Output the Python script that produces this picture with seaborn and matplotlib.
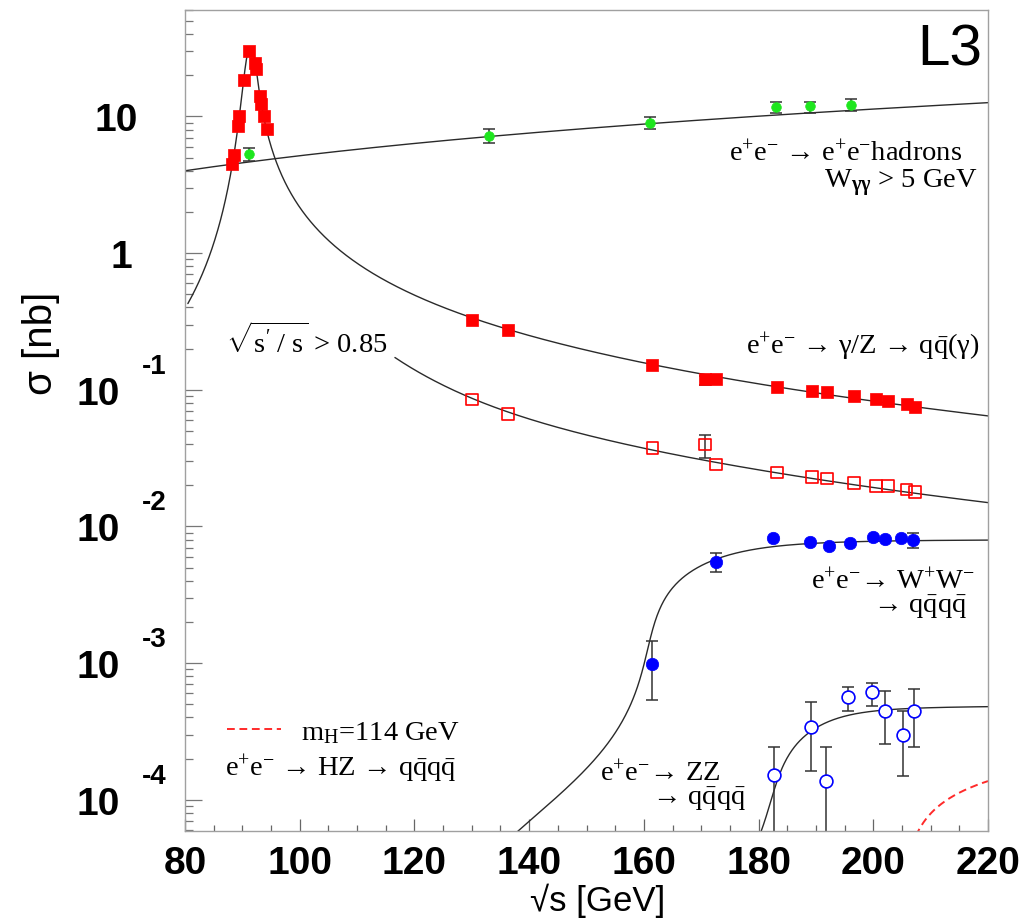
import numpy as np
import matplotlib
matplotlib.use("Agg")
import matplotlib.pyplot as plt
import matplotlib.transforms as mtransforms
from matplotlib.ticker import MultipleLocator, LogLocator, NullFormatter
import seaborn as sns

# ---------------- data ----------------
# e+e- -> hadrons at the Z pole (filled red squares)
zpole_x = [88.25, 88.54, 89.30, 89.47, 90.29, 91.21, 92.20, 92.38, 93.08, 93.25, 93.77, 94.24]
zpole_y = [4.48, 5.21, 8.53, 10.1, 18.4, 30.2, 24.5, 22.2, 14.2, 12.4, 10.1, 8.07]

# LEP2 energies
lep2_x = [130.1, 136.3, 161.5, 170.6, 172.6, 183.2, 189.3, 191.9, 196.6, 200.5, 202.5, 205.8, 207.3]
# e+e- -> gamma/Z -> q qbar (gamma), inclusive (filled red squares)
qq_incl_y = [0.326, 0.274, 0.152, 0.120, 0.120, 0.1047, 0.0984, 0.0956, 0.0894, 0.0849, 0.0826, 0.0785, 0.0748]
# sqrt(s'/s) > 0.85 (open red squares)
qq_excl_y = [0.0849, 0.0668, 0.0375, 0.0397, 0.0284, 0.0248, 0.0229, 0.0224, 0.0208, 0.0197, 0.0197, 0.0186, 0.0179]
# visible error bars on the red points
qq_incl_err_x = [170.6]
qq_incl_err_lo = [0.109]
qq_incl_err_hi = [0.127]
qq_excl_err_x = [170.6]
qq_excl_err_lo = [0.0317]
qq_excl_err_hi = [0.047]

# e+e- -> e+e- hadrons, W_gg > 5 GeV (green)
gg_x = [91.2, 133.0, 161.1, 183.0, 189.0, 196.1]
gg_y = [5.30, 7.15, 9.0, 11.8, 11.9, 12.2]
gg_lo = [4.68, 6.35, 8.13, 10.6, 10.6, 10.9]
gg_hi = [5.82, 8.04, 9.88, 12.7, 12.8, 13.3]

# e+e- -> W+W- -> qqqq (filled blue)
ww_x = [161.4, 172.6, 182.6, 189.0, 192.2, 195.9, 200.0, 202.0, 204.9, 207.0]
ww_y = [9.9e-4, 5.52e-3, 8.26e-3, 7.63e-3, 7.18e-3, 7.52e-3, 8.41e-3, 8.03e-3, 8.26e-3, 7.94e-3]
ww_err_x = [161.4, 172.6, 207.0]
ww_err_lo = [5.4e-4, 4.67e-3, 6.98e-3]
ww_err_hi = [1.44e-3, 6.35e-3, 8.9e-3]

# e+e- -> ZZ -> qqqq (open blue)
zz_x = [182.7, 189.1, 191.8, 195.6, 199.7, 202.1, 205.1, 207.1]
zz_y = [1.51e-4, 3.40e-4, 1.38e-4, 5.62e-4, 6.11e-4, 4.49e-4, 2.96e-4, 4.49e-4]
zz_lo = [3.0e-5, 1.62e-4, 3.0e-5, 4.49e-4, 4.88e-4, 2.56e-4, 1.49e-4, 2.42e-4]
zz_hi = [2.42e-4, 5.16e-4, 2.42e-4, 6.65e-4, 7.14e-4, 6.28e-4, 4.49e-4, 6.46e-4]

# ---------------- model-curve parameters (tuned to the picture) ----------------
MZ, GZ_LEFT, Z_PEAK = 91.2, 2.4, 30.5
TAIL_NEAR, TAIL_NEAR_P = 15800.0, 1.2
TAIL_FAR, TAIL_FAR_P = 4360.0, 1.05
CUT_NEAR, CUT_NEAR_P = 63800.0, 1.497
CUT_FAR, CUT_FAR_P = 1397.0, 1.08
CUT_START = 116.6
SMOOTH_K = 10.0
GG_AT80, GG_POW = 4.0, 1.134
WW_THR, WW_HW, WW_B, WW_AT220, WW_SPAN = 160.8, 1.5, 0.48, 7.94e-3, 48.0
ZZ_THR, ZZ_HW, ZZ_B, ZZ_AT220, ZZ_SPAN = 182.4, 2.0, 0.37, 4.8e-4, 40.0
HZ_THR, HZ_HW, HZ_B, HZ_AT220, HZ_SPAN = 205.2, 1.25, 10.0, 1.37e-4, 40.0

# ---------------- style ----------------
sns.set_theme(style="white")
plt.rcParams["font.family"] = ["Liberation Sans", "DejaVu Sans"]
plt.rcParams["text.color"] = "black"
plt.rcParams["axes.labelcolor"] = "black"
plt.rcParams["xtick.color"] = "black"
plt.rcParams["ytick.color"] = "black"
plt.rcParams["mathtext.fontset"] = "custom"
plt.rcParams["mathtext.rm"] = "Liberation Serif"
plt.rcParams["mathtext.it"] = "Liberation Serif:italic"
plt.rcParams["mathtext.bf"] = "Liberation Serif:bold"

RED, GREEN, BLUE = "#ff0000", "#1ee61e", "#0000ff"
CURVE = "#2a2a2a"
FRAME = "#a0a0a0"
SERIF = ["Liberation Serif", "DejaVu Serif"]
SANS = ["Liberation Sans", "DejaVu Sans"]

W, H = 1032, 920
L, R, T, B = 185.0, 988.0, 11.0, 831.7
fig = plt.figure(figsize=(W / 100, H / 100), dpi=100)
fig.patch.set_facecolor("white")
ax = fig.add_axes([L / W, 1 - B / H, (R - L) / W, (B - T) / H])
ax.set_facecolor("white")
ax.set_yscale("log")
ax.set_xlim(80, 220)
ax.set_ylim(5.94e-5, 60)


# ---------------- model curves ----------------
def smooth_max(a, b, k=SMOOTH_K):
    return (a ** k + b ** k) ** (1.0 / k)


def z_lineshape(x):
    s_d = x ** 2 - MZ ** 2
    left = Z_PEAK * (MZ * GZ_LEFT) ** 2 / (s_d ** 2 + (MZ * GZ_LEFT) ** 2)
    d = np.clip(s_d, 1e-3, None)
    tail = smooth_max(TAIL_NEAR * d ** -TAIL_NEAR_P, TAIL_FAR * d ** -TAIL_FAR_P)
    right = (Z_PEAK ** -4 + tail ** -4) ** -0.25
    return np.where(x <= MZ, left, right)


def cut_curve(x):
    d = x ** 2 - MZ ** 2
    return smooth_max(CUT_NEAR * d ** -CUT_NEAR_P, CUT_FAR * d ** -CUT_FAR_P)


def threshold(x, thr, hw, b, at220, span, n=8):
    def shape(xx):
        tm = np.linspace(thr - span, thr + span, 4001)
        rho = hw / np.pi / ((tm - thr) ** 2 + hw ** 2)
        beta = np.sqrt(np.clip(1 - (tm[None, :] / xx[:, None]) ** 2, 0, None))
        r = beta / b
        f = r / (1 + r ** n) ** (1.0 / n)
        return np.trapezoid(rho[None, :] * f, tm, axis=1)
    return at220 * shape(x) / shape(np.array([220.0]))[0]


x_z = np.linspace(80.5, 220, 1600)
x_gg = np.linspace(80, 220, 200)
x_cut = np.linspace(CUT_START, 220, 300)
x_ww = np.linspace(125, 220, 500)
x_zz = np.linspace(175, 220, 400)
x_hz = np.linspace(200, 220, 200)

lw_c = 1.0
sns.lineplot(x=x_gg, y=GG_AT80 * (x_gg / 80) ** GG_POW, ax=ax, color=CURVE, lw=lw_c,
             estimator=None, sort=False, zorder=1)
sns.lineplot(x=x_z, y=z_lineshape(x_z), ax=ax, color=CURVE, lw=lw_c,
             estimator=None, sort=False, zorder=1)
sns.lineplot(x=x_cut, y=cut_curve(x_cut), ax=ax, color=CURVE, lw=lw_c,
             estimator=None, sort=False, zorder=1)
sns.lineplot(x=x_ww, y=threshold(x_ww, WW_THR, WW_HW, WW_B, WW_AT220, WW_SPAN), ax=ax,
             color=CURVE, lw=lw_c, estimator=None, sort=False, zorder=1)
sns.lineplot(x=x_zz, y=threshold(x_zz, ZZ_THR, ZZ_HW, ZZ_B, ZZ_AT220, ZZ_SPAN), ax=ax,
             color=CURVE, lw=lw_c, estimator=None, sort=False, zorder=1)
sns.lineplot(x=x_hz, y=threshold(x_hz, HZ_THR, HZ_HW, HZ_B, HZ_AT220, HZ_SPAN), ax=ax,
             color="#ff2a2a", lw=1.4, estimator=None, sort=False, zorder=1)
hz_line = ax.lines[-1]
hz_line.set_dashes((4, 2.4))


# ---------------- error bars ----------------
def errbars(x, y, lo, hi):
    y = np.asarray(y, float)
    ax.errorbar(x, y, yerr=[y - np.asarray(lo), np.asarray(hi) - y], fmt="none",
                ecolor="#333333", elinewidth=1.1, capsize=4.5, capthick=1.1, zorder=2)


errbars(gg_x, gg_y, gg_lo, gg_hi)
errbars(zz_x, zz_y, zz_lo, zz_hi)
errbars(ww_err_x, [ww_y[ww_x.index(v)] for v in ww_err_x], ww_err_lo, ww_err_hi)
errbars(qq_incl_err_x, [qq_incl_y[lep2_x.index(v)] for v in qq_incl_err_x], qq_incl_err_lo, qq_incl_err_hi)
errbars(qq_excl_err_x, [qq_excl_y[lep2_x.index(v)] for v in qq_excl_err_x], qq_excl_err_lo, qq_excl_err_hi)

# ---------------- markers ----------------
sns.scatterplot(x=zpole_x, y=zpole_y, ax=ax, marker="s", s=80, color=RED, edgecolor=RED,
                linewidth=0.5, zorder=3)
sns.scatterplot(x=lep2_x, y=qq_incl_y, ax=ax, marker="s", s=80, color=RED, edgecolor=RED,
                linewidth=0.5, zorder=3)
sns.scatterplot(x=lep2_x, y=qq_excl_y, ax=ax, marker="s", s=72, facecolor="none", edgecolor=RED,
                linewidth=1.2, zorder=3)
sns.scatterplot(x=gg_x, y=gg_y, ax=ax, marker="o", s=48, color=GREEN, edgecolor=GREEN,
                linewidth=0.5, zorder=3)
sns.scatterplot(x=ww_x, y=ww_y, ax=ax, marker="o", s=80, color=BLUE, edgecolor=BLUE,
                linewidth=0.5, zorder=3)
sns.scatterplot(x=zz_x, y=zz_y, ax=ax, marker="o", s=85, facecolor="white", edgecolor=BLUE,
                linewidth=1.2, zorder=3)

# ---------------- axes, ticks, frame ----------------
for sp in ax.spines.values():
    sp.set_visible(True)
    sp.set_color(FRAME)
    sp.set_linewidth(1.0)

ax.yaxis.set_major_locator(LogLocator(base=10, numticks=20))
ax.yaxis.set_minor_locator(LogLocator(base=10, subs=np.arange(2, 10), numticks=40))
ax.yaxis.set_minor_formatter(NullFormatter())
ax.tick_params(axis="y", which="both", direction="in", left=True, right=False,
               labelleft=False, color="#777777", width=0.9)
ax.tick_params(axis="y", which="major", length=12)
ax.tick_params(axis="y", which="minor", length=6)

xt = [80, 100, 120, 140, 160, 180, 200, 220]
ax.set_xticks(xt, labels=[str(v) for v in xt], fontsize=28, fontweight="bold", family=SANS,
              color="black")
ax.xaxis.set_minor_locator(MultipleLocator(5))
ax.tick_params(axis="x", which="both", direction="in", bottom=True, top=False,
               color="#666666", width=0.9, pad=10, labelcolor="black")
ax.tick_params(axis="x", which="major", length=8.5)
ax.tick_params(axis="x", which="minor", length=4.3)
ax.set_xlabel("")
ax.set_ylabel("")

# y tick labels in the ROOT style (10 with a raised exponent)
trans = mtransforms.blended_transform_factory(ax.transAxes, ax.transData)
base_tr = mtransforms.offset_copy(trans, fig=fig, y=-14 * 0.72, units="points")
exp_tr = mtransforms.offset_copy(trans, fig=fig, y=17 * 0.72, units="points")


def axfrac(px):
    return (px - L) / (R - L)


tick_kw = dict(fontsize=28, fontweight="bold", family=SANS, color="black", va="baseline")
ax.text(axfrac(138), 10.0, "10", transform=base_tr, ha="right", **tick_kw)
ax.text(axfrac(132), 1.0, "1", transform=base_tr, ha="right", **tick_kw)
for n in (-1, -2, -3, -4):
    ax.text(axfrac(120), 10.0 ** n, "10", transform=base_tr, ha="right", **tick_kw)
    ax.text(axfrac(142), 10.0 ** n, str(n), transform=exp_tr, ha="left",
            fontsize=20, fontweight="bold", family=SANS, color="black", va="baseline")


def ftext(px, py, s, **kw):
    fig.text(px / W, 1 - py / H, s, **kw)


# axis titles
ftext(41, 343, "σ [nb]", rotation=90, ha="center", va="center", fontsize=29, family=SANS,
      color="black")
ftext(598, 911, "√s [GeV]", ha="center", va="baseline", fontsize=25, family=SANS, color="black")

# experiment tag
ftext(982, 65, "L3", ha="right", va="baseline", fontsize=42, family=SANS, color="black")

# process annotations
ann = dict(fontsize=20.5, family=SERIF, color="black", va="baseline")
ftext(962, 162, r"e$^{+}$e$^{-}$ → e$^{+}$e$^{-}$hadrons", ha="right", **ann)
ftext(978, 188, r"W$_{\mathbf{\gamma\gamma}}$ > 5 GeV", ha="right", **ann)
ftext(980, 355, r"e$^{+}$e$^{-}$ → γ/Z → q$\bar{\rm q}$(γ)", ha="right", **ann)
ftext(226, 353, r"$\sqrt{\rm s'\ /\ s}$ > 0.85", ha="left", **ann)
ftext(975, 590, r"e$^{+}$e$^{-}$→ W$^{+}$W$^{-}$", ha="right", **ann)
ftext(967, 613, r"→ q$\bar{\rm q}$q$\bar{\rm q}$", ha="right", **ann)
ftext(600, 782, r"e$^{+}$e$^{-}$→ ZZ", ha="left", **ann)
ftext(652, 805, r"→ q$\bar{\rm q}$q$\bar{\rm q}$", ha="left", **ann)
ftext(225, 777, r"e$^{+}$e$^{-}$ → HZ → q$\bar{\rm q}$q$\bar{\rm q}$", ha="left", **ann)

# Higgs legend
leg = ax.legend([hz_line], [r"m$_{\rm H}$=114 GeV"], loc="center left",
                bbox_to_anchor=(227 / W, 1 - 733 / H), bbox_transform=fig.transFigure,
                frameon=False, borderpad=0, borderaxespad=0, handlelength=1.9,
                handletextpad=0.7, prop={"family": SERIF, "size": 20.5})
for t in leg.get_texts():
    t.set_color("black")

fig.savefig("out.png", dpi=100, facecolor="white")
